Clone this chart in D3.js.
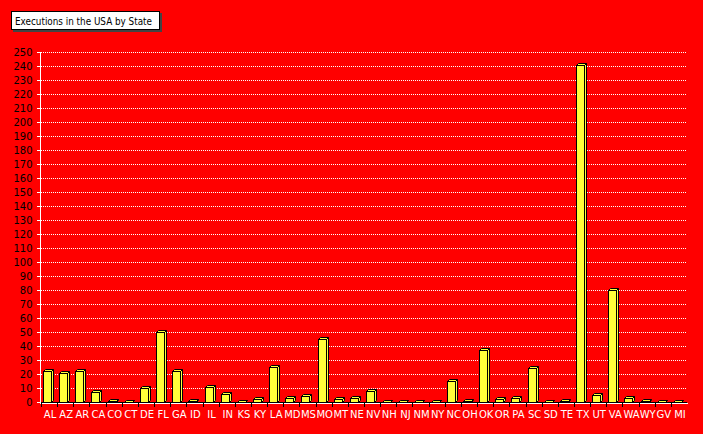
<!DOCTYPE html>
<html><head><meta charset="utf-8">
<script src="https://cdn.jsdelivr.net/npm/d3@7"></script>
<style>html,body{margin:0;padding:0;background:#ff0000;overflow:hidden}</style>
</head><body>
<svg id="c" width="703" height="434"></svg>
<script>
const title = "Executions in the USA by State";
const states = ["AL","AZ","AR","CA","CO","CT","DE","FL","GA","ID","IL","IN","KS","KY","LA","MD","MS","MO","MT","NE","NV","NH","NJ","NM","NY","NC","OH","OK","OR","PA","SC","SD","TE","TX","UT","VA","WA","WY","GV","MI"];
const executions = [22,21,22,7,1,0,10,50,22,1,11,6,0,2,25,3,4,45,2,3,8,0,0,0,0,15,1,37,2,3,24,0,1,241,5,80,3,1,0,0];
const yTicks = d3.range(0, 251, 10);

const svg = d3.select("#c");
svg.append("rect").attr("width",703).attr("height",434).attr("fill","#ff0000");

const x = d3.scaleBand().domain(states).range([41, 687]);
const y = d3.scaleLinear().domain([0, 250]).range([402, 52]);
const font = "'DejaVu Sans', Verdana, sans-serif";

// gridlines
svg.append("g").selectAll("line").data(yTicks.filter(d=>d>0)).join("line")
  .attr("x1", 41).attr("x2", 687)
  .attr("y1", d=>Math.round(y(d))+0.5).attr("y2", d=>Math.round(y(d))+0.5)
  .attr("stroke","#fff").attr("stroke-width",1).attr("stroke-dasharray","1,1")
  .attr("shape-rendering","crispEdges");

// y axis
const yAxis = d3.axisLeft(y).tickValues(yTicks).tickSize(4).tickPadding(4);
const gy = svg.append("g").attr("transform","translate(40.5,0)").call(yAxis);
gy.select(".domain").attr("stroke","#fff").attr("d","M0,52V404");
gy.selectAll(".tick line").attr("stroke","#fff").attr("shape-rendering","crispEdges");
gy.selectAll(".tick text").attr("fill","#000").attr("font-family",font).attr("font-size","10px");

// bars
const d = 2, bw = 8;
const bars = svg.append("g").attr("stroke","#000").attr("stroke-width",1).attr("fill","#ffff3a").attr("stroke-linejoin","miter");
states.forEach((s,i)=>{
  const v = executions[i];
  const x0 = Math.round(x(s)) + 2.5;
  const yv = Math.round(y(v)) + 0.5;
  const y0 = Math.round(y(0)) + 0.5;
  const g = bars.append("g");
  g.append("path").attr("d",`M${x0+bw},${yv}L${x0+bw+d},${yv-d}L${x0+bw+d},${y0-d}L${x0+bw},${y0}Z`);
  g.append("path").attr("d",`M${x0},${yv}L${x0+d},${yv-d}L${x0+bw+d},${yv-d}L${x0+bw},${yv}Z`);
  g.append("rect").attr("x",x0).attr("y",yv).attr("width",bw).attr("height",Math.max(0,y0-yv));
});

// floor / x axis
svg.append("line").attr("x1",41).attr("x2",687).attr("y1",402.5).attr("y2",402.5)
  .attr("stroke","#000").attr("stroke-width",1);
svg.append("line").attr("x1",41).attr("x2",688).attr("y1",403.5).attr("y2",403.5)
  .attr("stroke","#fff").attr("stroke-width",1);
svg.append("g").selectAll("line").data(states).join("line")
  .attr("x1",s=>Math.round(x(s))+0.5).attr("x2",s=>Math.round(x(s))+0.5)
  .attr("y1",403).attr("y2",407).attr("stroke","#000");
svg.append("g").selectAll("text").data(states).join("text")
  .attr("x",s=>x(s)+x.bandwidth()/2+1).attr("y",418)
  .attr("text-anchor","middle").attr("fill","#fff")
  .attr("font-family",font).attr("font-size","10px").text(s=>s);

// title box
svg.append("rect").attr("x",13).attr("y",13).attr("width",149).attr("height",19).attr("fill","#444");
svg.append("rect").attr("x",11.5).attr("y",11.5).attr("width",148).attr("height",18).attr("fill","#fff").attr("stroke","#000");
svg.append("text").attr("x",15).attr("y",25).attr("font-family",font).attr("font-size","10px")
  .attr("textLength",137).attr("lengthAdjust","spacingAndGlyphs").attr("fill","#000").text(title);
</script>
</body></html>
